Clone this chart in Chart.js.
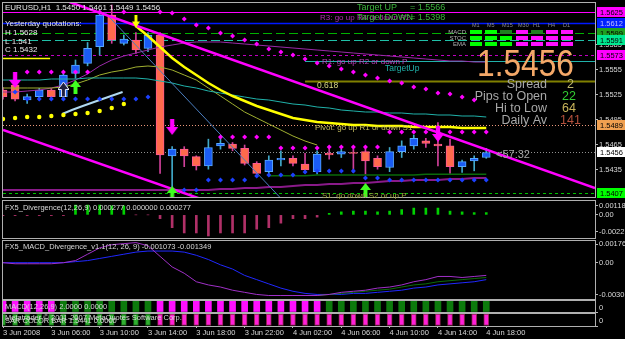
<!DOCTYPE html>
<html><head><meta charset="utf-8">
<script src="https://cdn.jsdelivr.net/npm/chart.js@4.4.1/dist/chart.umd.min.js"></script>
<style>
html,body{margin:0;padding:0;background:#000;width:625px;height:339px;overflow:hidden;}
canvas{position:absolute;left:0;}
</style></head><body>
<canvas id="c0" width="625" height="199" style="top:0px"></canvas>
<canvas id="c1" width="625" height="40" style="top:199px"></canvas>
<canvas id="c2" width="625" height="61" style="top:239px"></canvas>
<canvas id="c3" width="625" height="13" style="top:300px"></canvas>
<canvas id="c4" width="625" height="26" style="top:313px"></canvas>
<script>
// ---------- DATA ----------
const xTickIdx = [0,4,8,12,16,20,24,28,32,36,40];
const xTickLabels = ['3 Jun 2008','3 Jun 06:00','3 Jun 10:00','3 Jun 14:00','3 Jun 18:00','3 Jun 22:00','4 Jun 02:00','4 Jun 06:00','4 Jun 10:00','4 Jun 14:00','4 Jun 18:00'];

const opens  = [1.5531,1.5537,1.5519,1.5523,1.5531,1.5523,1.5551,1.5563,1.5583,1.5621,1.5587,1.5591,1.5581,1.5597,1.5452,1.5460,1.5451,1.5440,1.5464,1.5466,1.5461,1.5443,1.5433,1.5447,1.5449,1.5442,1.5433,1.5455,1.5454,1.5456,1.5457,1.5449,1.5438,1.5457,1.5464,1.5470,1.5466,1.5464,1.5439,1.5446,1.5450];
const highs  = [1.5534,1.5540,1.5526,1.5533,1.5533,1.5551,1.5567,1.5588,1.5625,1.5633,1.5597,1.5600,1.5600,1.5600,1.5463,1.5463,1.5452,1.5472,1.5475,1.5468,1.5465,1.5445,1.5452,1.5458,1.5452,1.5455,1.5458,1.5462,1.5460,1.5462,1.5462,1.5452,1.5462,1.5470,1.5477,1.5473,1.5492,1.5472,1.5447,1.5452,1.5461];
const lows   = [1.5520,1.5518,1.5515,1.5519,1.5521,1.5519,1.5545,1.5560,1.5573,1.5587,1.5585,1.5575,1.5577,1.5431,1.5413,1.5439,1.5435,1.5436,1.5460,1.5458,1.5441,1.5428,1.5431,1.5440,1.5440,1.5432,1.5430,1.5448,1.5450,1.5432,1.5430,1.5436,1.5433,1.5450,1.5460,1.5462,1.5440,1.5431,1.5432,1.5434,1.5449];
const closes = [1.5523,1.5520,1.5523,1.5531,1.5523,1.5549,1.5561,1.5581,1.5621,1.5591,1.5592,1.5579,1.5597,1.5453,1.5460,1.5452,1.5440,1.5462,1.5467,1.5461,1.5443,1.5431,1.5447,1.5449,1.5443,1.5435,1.5454,1.5453,1.5457,1.5455,1.5446,1.5439,1.5457,1.5464,1.5473,1.5467,1.5464,1.5439,1.5445,1.5449,1.5456];

const priceTicks = [1.5585,1.5555,1.5525,1.5495,1.5465,1.5435];

const yellowMA = [null,null,null,null,null,null,null,null,null,null,null,1.56078,1.55958,1.55826,1.55694,1.55586,1.5549,1.55394,1.5531,1.55238,1.55178,1.55118,1.5507,1.55022,1.54974,1.5495,1.54926,1.54914,1.54902,1.5489,1.5489,1.54878,1.54878,1.54878,1.54866,1.54866,1.54866,1.54866,1.54854,1.54854,1.54854];
const tealMA = [1.5543,1.5543,1.5543,1.5543,1.55442,1.55442,1.55442,1.55454,1.55454,1.55454,1.55454,1.55454,1.55442,1.55418,1.55394,1.55358,1.55334,1.55298,1.55274,1.5525,1.55226,1.55202,1.5519,1.55166,1.55142,1.5513,1.55106,1.55094,1.5507,1.55058,1.55046,1.55046,1.55034,1.55034,1.55022,1.55022,1.5501,1.5501,1.54998,1.54998,1.54986];
const oliveMA = [1.55334,1.55334,1.55334,1.55334,1.55334,1.55346,1.55382,1.5543,1.5549,1.55526,1.5555,1.55586,1.55598,1.55586,1.5555,1.5549,1.5543,1.55334,1.55238,1.55142,1.55046,1.54974,1.54902,1.5483,1.54758,1.54698,1.5465,null,null,null,null,null,null,null,null,null,null,null,null,null,null];
const purpleMA = [1.55286,1.55286,1.55298,1.5531,1.55334,1.5537,1.5543,1.55502,1.55598,1.5567,1.55718,1.55754,1.5579,1.55826,1.5585,1.55874,1.55886,1.55886,1.55886,1.55874,1.55862,1.5585,1.55838,1.55826,1.55814,1.55802,1.5579,1.55778,1.55766,1.55754,1.55742,1.5573,1.55718,1.55706,1.55694,1.55682,1.5567,1.55658,1.55658,1.55646,1.55646];
const bottomMA = [1.5411,1.5411,1.5411,1.5411,1.5411,1.5411,1.5411,1.5411,1.5411,1.5411,1.5411,1.5411,1.5411,1.5411,1.5411,1.5411,1.5411,1.5411,1.54122,1.54122,1.54134,1.54134,1.54146,1.54146,1.54158,1.5417,1.5417,1.54182,1.54182,1.54194,1.54194,1.54206,1.54218,1.54218,1.5423,1.5423,1.5423,1.54242,1.54242,1.54254,1.54254];
const darkGreenMA = [null,null,null,null,null,null,null,null,null,null,null,null,null,null,null,null,null,null,null,null,null,null,1.5428,1.5428,1.5428,1.5428,1.5429,1.5429,1.5429,1.5429,1.5429,1.5429,1.5429,1.5429,1.5429,1.5430,1.5430,1.5430,1.5430,1.5430,1.5430];

const blueDots = [null,1.55286,1.55202,1.55202,1.55202,1.55202,1.55202,1.55202,1.55202,1.55202,1.55202,1.55202,1.55226,null,null,1.5411,1.5411,1.5423,1.5423,1.5423,1.5423,1.54278,1.5429,1.5429,1.5429,1.54326,1.54338,1.54338,1.54338,1.54338,1.54254,1.54254,1.5423,1.5423,1.5423,1.5423,1.5423,1.5423,1.5423,1.5423,1.5423];
const magentaDots = [null,null,1.55526,1.55526,1.55526,1.55526,1.55526,1.55526,1.56246,null,1.56246,null,null,1.56246,1.56234,1.56162,1.5609,1.56054,1.55994,1.55958,1.5591,1.55862,1.55802,1.55766,1.5573,1.55682,1.55634,1.55598,1.55562,1.55526,1.5549,1.55454,1.55418,1.55394,1.55346,1.55322,1.55274,1.55262,1.55226,1.5519,null];
const magentaDots2 = [null,null,null,null,null,null,null,null,null,null,null,null,null,null,null,null,null,null,1.54746,1.54746,1.54746,1.54746,1.54746,1.54614,1.54614,1.54614,1.54614,1.54626,1.54626,1.54626,1.54626,1.54626,1.54806,1.54806,1.54806,1.54806,1.54806,1.54806,1.54806,1.54806,1.54806];
const yellowDots = [1.54962,1.54974,1.54986,1.54986,1.54998,1.5501,1.55022,1.55034,1.55058,1.55094,1.55142];

const arrowDownMagenta = [{i:1,p:1.55334},{i:14,p:1.5477},{i:36,p:1.54686}];
const arrowUpGreen = [{i:6,p:1.5543},{i:14,p:1.54158},{i:30,p:1.54194}];
const arrowUpWhite = [{i:5,p:1.55406}];
const arrowDownYellow = [{i:11,p:1.56054}];

const trendUpper = [{i:5.5,p:1.56366},{i:49,p:1.54134}];
const trendLower = [{i:0,p:1.5483},{i:19,p:1.5387}];
const steelLine = [{i:8.4,p:1.56246},{i:23,p:1.5401}];
const lightCurve = [{i:4.9,p:1.55022},{i:5.7,p:1.5507},{i:6.6,p:1.55118},{i:8.0,p:1.5519},{i:9.9,p:1.55286}];

// horizontal levels
const levelValues = [1.5625,1.5612,1.5599,1.5591,1.5573,1.5566,1.5542,1.5489,1.5456,1.5407,1.5569];
const levelFrom   = [null,null,null,null,null,25,25,null,null,null,0];
const levelTo     = [null,null,null,null,null,null,null,null,null,null,3.9];
const boxedLevels = [0,1,2,3,4,7,8,9];

// lower panes
const divHist = [-0.0001,-0.0001,-0.0001,-0.0001,-0.0001,-0.0001,0.0013,0.0013,0.0013,0.0012,0.0012,0,0,-0.0005,-0.0017,-0.0024,-0.0024,-0.0028,-0.0024,-0.0024,-0.0024,-0.0019,-0.0017,-0.0011,-0.0005,-0.0005,-0.0003,0.0002,0.0004,0.0005,0.0005,0.0004,0.0005,0.0007,0.0009,0.0009,0.0009,0.0005,0.0004,0.0003,0.0003];
const macdMain = [0,-0.0001,-0.0001,-0.0001,-0.0001,0,0.0002,0.0008,0.0014,0.0017,0.0018,0.0019,0.0016,0.0006,-0.0004,-0.0010,-0.0018,-0.0021,-0.0023,-0.0026,-0.0028,-0.0030,-0.0031,-0.0031,-0.0031,-0.0031,-0.0031,-0.0030,-0.0028,-0.0027,-0.0026,-0.0024,-0.0023,-0.0021,-0.0018,-0.0016,-0.0013,-0.0013,-0.0014,-0.0013,-0.0012];
const macdSignal = [0,0,0,0,0,0,0.0001,0.0002,0.0004,0.0006,0.0008,0.0010,0.0011,0.0011,0.0011,0.0010,0.0007,0.0003,-0.0002,-0.0006,-0.0012,-0.0016,-0.0020,-0.0024,-0.0027,-0.0029,-0.0030,-0.0030,-0.0030,-0.0029,-0.0029,-0.0028,-0.0027,-0.0026,-0.0024,-0.0023,-0.0021,-0.0020,-0.0019,-0.0018,-0.0016];
const macdSlow = [null,null,null,null,null,null,null,null,null,null,null,null,null,null,null,null,null,null,null,null,null,null,null,null,null,null,-0.0031,-0.0030,-0.0029,-0.0028,-0.0027,-0.0026,-0.0025,-0.0023,-0.0021,-0.0020,-0.0018,-0.0017,-0.0016,-0.0015,-0.0014];
const macdBarDir = [-1,-1,-1,-1,-1,1,1,1,1,1,1,1,1,-1,-1,-1,-1,-1,-1,-1,-1,-1,-1,-1,-1,-1,-1,1,1,1,1,1,1,1,1,1,1,1,1,1,1];
const sarBarDir  = [1,1,1,1,1,1,1,1,1,1,1,1,1,-1,-1,-1,-1,-1,-1,-1,-1,-1,-1,-1,-1,-1,-1,-1,-1,-1,-1,-1,-1,-1,-1,-1,-1,-1,-1,-1,-1];

// ---------- STYLE ----------
const FONT = '"Liberation Sans", Arial, sans-serif';
const levelStyle = [
  {c:'#ff00ff',w:1,d:[]},{c:'#0018ff',w:1.5,d:[]},{c:'#00b000',w:1,d:[9,4]},{c:'#20c0a8',w:1,d:[9,4]},
  {c:'#c000c0',w:1,d:[3,3]},{c:'#20b2aa',w:1,d:[]},{c:'#808000',w:2,d:[]},{c:'#e9967a',w:1,d:[1,2]},
  {c:'#909090',w:1,d:[1,2]},{c:'#00c000',w:1,d:[3,3]},{c:'#ffff00',w:1.5,d:[]}];
const boxStyle = {0:['#ff00ff','#000'],1:['#0020ff','#c0c0ff'],2:['#20a020','#000'],3:['#00e890','#000'],4:['#ff00ff','#000'],7:['#f0a050','#000'],8:['#ffffff','#000'],9:['#00ff00','#000']};

const idx = opens.map((_, i) => i);
const bull = idx.map(i => closes[i] >= opens[i]);
const series = arr => arr.map((v, i) => ({x: i, y: v}));
const pts = arr => arr.map(a => ({x: a.i, y: a.p}));

function arrowImg(color, dir, w, h, outline) {
  const c = document.createElement('canvas'); c.width = w; c.height = h * 2;
  const g = c.getContext('2d');
  g.fillStyle = color; g.strokeStyle = outline || color; g.lineWidth = 1;
  g.beginPath();
  const sw = w * 0.36, hh = h * 0.5;
  if (dir === 'down') {
    g.moveTo(w/2 - sw/2, 0); g.lineTo(w/2 + sw/2, 0); g.lineTo(w/2 + sw/2, h - hh);
    g.lineTo(w, h - hh); g.lineTo(w/2, h); g.lineTo(0, h - hh); g.lineTo(w/2 - sw/2, h - hh);
  } else {
    g.moveTo(w/2, h); g.lineTo(w, h + hh); g.lineTo(w/2 + sw/2, h + hh); g.lineTo(w/2 + sw/2, 2*h);
    g.lineTo(w/2 - sw/2, 2*h); g.lineTo(w/2 - sw/2, h + hh); g.lineTo(0, h + hh);
  }
  g.closePath(); g.fill(); if (outline) g.stroke();
  return c;
}

function yAxis(min, max, tickVals, fmt, labelOffset) {
  return {
    type: 'linear', position: 'right', min, max,
    afterFit(s) { s.width = 30; s.paddingTop = 0; s.paddingBottom = 0; },
    afterBuildTicks(s) { s.ticks = tickVals.map(v => ({value: v})); },
    grid: {drawOnChartArea: false, drawTicks: true, tickLength: 3, color: '#b8b8b8'},
    border: {display: true, color: '#b8b8b8'},
    ticks: {color: '#d8d8d8', font: {family: FONT, size: 7.5}, padding: 1, autoSkip: false,
            labelOffset: labelOffset || 0, callback: fmt}
  };
}
const xHidden = {type: 'linear', min: 0, max: 49, display: false, offset: false, grid: {offset: false}};

const framePlugin = {id: 'frame', afterDraw(ch) {
  const a = ch.chartArea, c = ch.ctx; c.save();
  c.strokeStyle = '#b0b0b0'; c.lineWidth = 1;
  c.strokeRect(a.left - 0.5, a.top - 0.5, a.right - a.left + 1, a.bottom - a.top + 1);
  c.restore();
}};
function T(c, s, x, y, col, size, align, maxW) {
  c.font = size + 'px ' + FONT; c.fillStyle = col; c.textAlign = align || 'left'; c.textBaseline = 'middle';
  if (maxW) c.fillText(s, x, y, maxW); else c.fillText(s, x, y);
}
function textPlugin(list) {
  return {id: 'txt', afterDraw(ch) { const c = ch.ctx; c.save(); list.forEach(t => T(c, ...t)); c.restore(); }};
}

const levelsPlugin = {id: 'levels', beforeDatasetsDraw(ch) {
  const c = ch.ctx, a = ch.chartArea, ys = ch.scales.y, xs = ch.scales.x;
  c.save(); c.beginPath(); c.rect(a.left, a.top, a.right - a.left, a.bottom - a.top); c.clip();
  levelValues.forEach((v, k) => {
    const st = levelStyle[k];
    const py = Math.round(ys.getPixelForValue(v)) + 0.5;
    const x0 = levelFrom[k] == null ? a.left : xs.getPixelForValue(levelFrom[k]);
    const x1 = levelTo[k] == null ? a.right : xs.getPixelForValue(levelTo[k]);
    c.strokeStyle = st.c; c.lineWidth = st.w; c.setLineDash(st.d);
    c.beginPath(); c.moveTo(x0, py); c.lineTo(x1, py); c.stroke();
  });
  c.restore();
}, afterDraw(ch) {
  const c = ch.ctx, ys = ch.scales.y, a = ch.chartArea;
  c.save();
  boxedLevels.forEach(k => {
    const py = Math.round(ys.getPixelForValue(levelValues[k]));
    const [bg, fg] = boxStyle[k];
    c.fillStyle = bg; c.fillRect(a.right + 2, py - 5, 28, 10);
    T(c, levelValues[k].toFixed(4), a.right + 5, py + 0.5, fg, 7.5);
  });
  c.restore();
}};

const mainText = {id: 'mainText', afterDraw(ch) {
  const c = ch.ctx; c.save();
  T(c, 'EURUSD,H1  1.5450 1.5461 1.5449 1.5456', 5, 8, '#e8e8e8', 8);
  T(c, 'Yesterday quotations:', 5, 24, '#e8e8e8', 8);
  T(c, 'H 1.5628', 5, 33, '#e8e8e8', 8);
  T(c, 'L 1.541', 5, 42, '#e8e8e8', 8);
  T(c, 'C 1.5432', 5, 50, '#e8e8e8', 8);
  T(c, 'Target UP', 357, 8, '#3cb43c', 9);
  T(c, '= 1.5566', 410, 8, '#3cb43c', 9);
  T(c, 'R3: go up R4 or down R2', 320, 18, '#b030b0', 8);
  T(c, 'Target DOWN', 357, 18, '#3cb43c', 9);
  T(c, '= 1.5398', 410, 18, '#3cb43c', 9);
  const heads = ['M1','M5','M15','M30','H1','H4','D1'];
  const cols = [470,485,500,516,531,546,561];
  heads.forEach((h, k) => T(c, h, cols[k] + 2, 25, '#8a8a8a', 5.5));
  const rows = ['MACD','STOC','EMA'], rowY = [32,38,44];
  const state = [['G','G','g','M','g','M','M'],['G','G','G','M','M','M','M'],['G','G','G','M','M','M','M']];
  const colr = {G:'#00ff00', g:'#1f7f1f', M:'#ff10ff'};
  rows.forEach((r, j) => {
    T(c, r, 466, rowY[j], '#b0b0b0', 6, 'right');
    cols.forEach((x, k) => { c.fillStyle = colr[state[j][k]]; c.fillRect(x, rowY[j] - 2, 12, 4); });
  });
  T(c, '1.5456', 477, 66, '#f4a868', 36, 'left', 97);
  T(c, 'Spread', 547, 85, '#a8a8a8', 12.5, 'right');
  T(c, '2', 567, 85, '#bdb76b', 12.5);
  T(c, 'Pips to Open', 547, 97, '#a8a8a8', 12.5, 'right');
  T(c, '22', 562, 97, '#32cd32', 12.5);
  T(c, 'Hi to Low', 547, 109, '#a8a8a8', 12.5, 'right');
  T(c, '64', 562, 109, '#c8b45a', 12.5);
  T(c, 'Daily Av', 547, 121, '#a8a8a8', 12.5, 'right');
  T(c, '141', 560, 121, '#b4503c', 12.5);
  T(c, 'R1: go up R2 or down P', 322, 62, '#c040c0', 8);
  T(c, 'TargetUp', 385, 69, '#20b2aa', 8.5);
  T(c, '0.618', 317, 86, '#d8d880', 8.5);
  T(c, 'Pivot: go up R1 or down S1', 315, 128, '#c8c060', 8);
  T(c, 'S1: go down S2 or up P', 322, 196, '#a0a040', 8);
  T(c, '<57:32', 496, 155, '#a8a8a8', 11);
  c.restore();
}};

// ---------- MAIN CHART ----------
const lineDs = (data, color, w, order, dash) => ({type: 'line', data, borderColor: color, borderWidth: w,
  pointRadius: 0, spanGaps: false, tension: 0, order, borderDash: dash || []});
const dotDs = (data, color, style, r, order) => ({type: 'line', data, showLine: false, pointStyle: style,
  pointRadius: r, pointBackgroundColor: color, pointBorderColor: color, pointBorderWidth: 0, order});
const imgDs = (data, img, order) => ({type: 'line', data, showLine: false, pointStyle: img, pointRadius: 6, order});
const baseOpts = (pad) => ({responsive: false, animation: false, devicePixelRatio: 1, events: [],
  layout: {autoPadding: false, padding: pad},
  plugins: {legend: {display: false}, tooltip: {enabled: false}}});

new Chart(document.getElementById('c0'), {
  type: 'bar',
  data: {datasets: [
    imgDs(pts(arrowDownMagenta), arrowImg('#ff00ff', 'down', 12, 16), 0),
    imgDs(pts(arrowUpGreen), arrowImg('#40ff20', 'up', 11, 14), 0),
    imgDs(pts(arrowUpWhite), arrowImg('#202040', 'up', 11, 15, '#e8e8ff'), 0),
    imgDs(pts(arrowDownYellow), arrowImg('#ffff00', 'down', 8, 13), 0),
    dotDs(series(magentaDots), '#ff00ff', 'rectRot', 2.5, 1),
    dotDs(series(magentaDots2), '#ff00ff', 'rectRot', 2.5, 1),
    dotDs(series(blueDots), '#1c40ff', 'rectRot', 2.5, 1),
    dotDs(series(yellowDots), '#ffff00', 'circle', 2.2, 1),
    lineDs(pts(trendUpper), '#ff00ff', 2.5, 2),
    lineDs(pts(trendLower), '#ff00ff', 2.5, 2),
    lineDs(series(yellowMA), '#ffff00', 2.5, 3),
    lineDs(pts(steelLine), '#4a7ec0', 1, 3),
    lineDs(pts(lightCurve), '#b0d8f0', 2, 3),
    lineDs(series(tealMA), '#20b2aa', 1, 4),
    lineDs(series(oliveMA), '#a0b030', 1, 4),
    lineDs(series(purpleMA), '#9a2aa8', 1, 4),
    lineDs(series(bottomMA), '#8a1a8a', 2, 4),
    lineDs(series(darkGreenMA), '#0a6a0a', 1.5, 4),
    {type: 'bar', data: idx.map(i => ({x: i, y: [opens[i], closes[i]]})), grouped: false, barThickness: 8,
     backgroundColor: idx.map(i => bull[i] ? '#1a5cf5' : '#ff6a4c'),
     borderColor: idx.map(i => bull[i] ? '#58a8ff' : '#ff5890'), borderWidth: 1, borderSkipped: false, order: 8},
    {type: 'bar', data: idx.map(i => ({x: i, y: [lows[i], highs[i]]})), grouped: false, barThickness: 1,
     backgroundColor: idx.map(i => bull[i] ? '#40a8c8' : '#d0409a'), order: 9}
  ]},
  options: Object.assign(baseOpts({left: 3, right: 0, top: 3, bottom: 2}), {
    scales: {x: xHidden, y: yAxis(1.54026, 1.56354, priceTicks, v => v.toFixed(4))}
  }),
  plugins: [levelsPlugin, framePlugin, mainText]
});

// ---------- PANE 1: divergence histogram ----------
new Chart(document.getElementById('c1'), {
  type: 'bar',
  data: {datasets: [{data: series(divHist), barThickness: 2, grouped: false,
    backgroundColor: divHist.map(v => v > 0 ? '#00d000' : '#b03068')}]},
  options: Object.assign(baseOpts({left: 3, right: 0, top: 2, bottom: 1}), {
    scales: {x: xHidden, y: yAxis(-0.00307, 0.00184, [0.00118, 0, -0.00227], v => v === 0 ? '0.00' : v.toFixed(5))}
  }),
  plugins: [framePlugin, textPlugin([['FX5_Divergence(12,26,9) 0.000277 0.000000 0.000277', 5, 9, '#d8d8d8', 7.5]])]
});

// ---------- PANE 2: MACD divergence lines ----------
new Chart(document.getElementById('c2'), {
  type: 'line',
  data: {datasets: [
    lineDs(series(macdSlow), '#0c6c0c', 1, 2),
    lineDs(series(macdMain), '#a030c8', 1, 1),
    lineDs(series(macdSignal), '#2028ff', 1, 3)
  ]},
  options: Object.assign(baseOpts({left: 3, right: 0, top: 2, bottom: 1}), {
    scales: {x: xHidden, y: yAxis(-0.00343, 0.00205, [0.00176, 0, -0.00305], v => v === 0 ? '0.00' : v.toFixed(5))}
  }),
  plugins: [framePlugin, textPlugin([['FX5_MACD_Divergence_v1.1(12, 26, 9) -0.001073 -0.001349', 5, 8, '#d8d8d8', 7.5]])]
});

// ---------- PANE 3: MACD colour bars ----------
new Chart(document.getElementById('c3'), {
  type: 'bar',
  data: {datasets: [
    {data: macdBarDir.map((d, i) => ({x: i, y: d > 0 ? 1 : null})), barThickness: 6, grouped: false, backgroundColor: '#0c7a0c'},
    {data: macdBarDir.map((d, i) => ({x: i, y: d < 0 ? 1 : null})), barThickness: 6, grouped: false, backgroundColor: '#ff10ff'}
  ]},
  options: Object.assign(baseOpts({left: 3, right: 0, top: 1, bottom: 1}), {
    scales: {x: xHidden, y: yAxis(0, 1, [0], () => '0', -4)}
  }),
  plugins: [framePlugin, textPlugin([['MACD(12,26,9) 2.0000 0.0000', 5, 7, '#d8d8d8', 7.5]])]
});

// ---------- PANE 4: SAR colour bars + time axis ----------
new Chart(document.getElementById('c4'), {
  type: 'bar',
  data: {datasets: [
    {data: sarBarDir.map((d, i) => ({x: i, y: d > 0 ? 1 : null})), barThickness: 5, grouped: false,
     backgroundColor: '#30b030', borderColor: '#106010', borderWidth: 1, borderSkipped: false},
    {data: sarBarDir.map((d, i) => ({x: i, y: d < 0 ? 1 : null})), barThickness: 5, grouped: false,
     backgroundColor: '#ff20d8', borderColor: '#902050', borderWidth: 1, borderSkipped: false}
  ]},
  options: Object.assign(baseOpts({left: 3, right: 0, top: 1, bottom: 0}), {
    scales: {
      x: {type: 'linear', min: 0, max: 49, position: 'bottom', offset: false,
          afterFit(s) { s.height = 13; s.paddingLeft = 0; s.paddingRight = 0; },
          afterBuildTicks(s) { s.ticks = xTickIdx.map(v => ({value: v})); },
          grid: {drawOnChartArea: false, drawTicks: true, tickLength: 2, color: '#b8b8b8', offset: false},
          border: {display: false},
          ticks: {color: '#d8d8d8', font: {family: FONT, size: 7.5}, padding: 0, align: 'start',
                  maxRotation: 0, autoSkip: false, callback: v => xTickLabels[xTickIdx.indexOf(v)]}},
      y: yAxis(0, 1, [0], () => '0', -5)
    }
  }),
  plugins: [framePlugin, textPlugin([
    ['SAR COLOR BAR 1.5441 0.0000', 5, 8, '#d8d8d8', 7.5],
    ['Metatrader \u00a9 2001-2007 MetaQuotes Software Corp.', 5, 5, '#d8d8d8', 7.5]
  ])]
});
</script>
</body></html>
